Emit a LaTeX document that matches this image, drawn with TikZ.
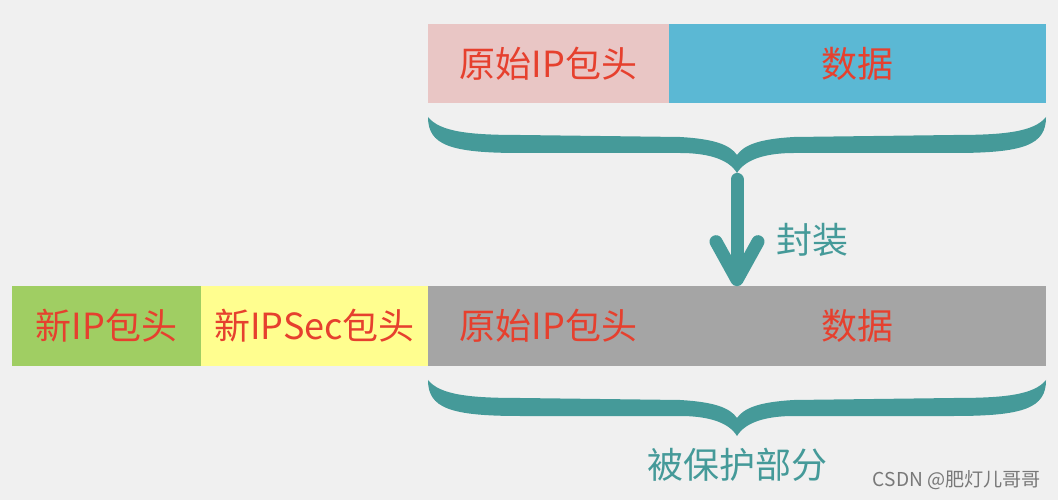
\documentclass[tikz,border=0pt]{standalone}
\usepackage{fontspec}
\setmainfont{Noto Sans CJK SC}
\usetikzlibrary{arrows.meta,positioning}
\definecolor{figbg}{RGB}{240,240,240}
\definecolor{figpink}{RGB}{233,198,197}
\definecolor{figblue}{RGB}{91,184,212}
\definecolor{figgreen}{RGB}{160,206,99}
\definecolor{figyellow}{RGB}{255,254,143}
\definecolor{figgray}{RGB}{165,165,165}
\definecolor{figred}{RGB}{230,64,46}
\definecolor{figteal}{RGB}{69,154,153}
\definecolor{figmark}{RGB}{120,120,120}
\tikzset{
  fieldbox/.style={inner sep=0pt, minimum height=1.975cm, align=center, font=\fontsize{25.6}{30}\selectfont, text=figred},
  figlabel/.style={inner sep=0pt, font=\fontsize{25.6}{30}\selectfont, text=figteal},
  marklabel/.style={inner sep=0pt, font=\fontsize{13.6}{16}\selectfont, text=figmark},
  arrowline/.style={draw=figteal, line width=0.325cm, line cap=round, shorten <=0.16cm, -{Straight Barb[round, length=0.95cm, width=1.05cm]}},
  tealbrace/.pic={
    \fill[figteal] (-309,0) .. controls (-297,-15) and (-267,-18) .. (-217,-18) -- (-57,-20)
      .. controls (-22,-22) and (-7,-28) .. (0,-38) .. controls (7,-28) and (22,-22) .. (57,-20)
      -- (217,-18) .. controls (267,-18) and (297,-15) .. (309,0)
      .. controls (309,-28) and (287,-36) .. (217,-36) -- (57,-36)
      .. controls (32,-36) and (9,-41) .. (0,-56) .. controls (-9,-41) and (-32,-36) .. (-57,-36)
      -- (-217,-36) .. controls (-287,-36) and (-309,-28) .. (-309,0) -- cycle;
    \coordinate (-tip) at (0,-56);
  }
}
\begin{document}
\begin{tikzpicture}[x=0.025cm,y=0.025cm]
  \path[fill=figbg, use as bounding box] (0,0) rectangle (1058,500);

  % original packet
  \node[fieldbox, fill=figpink, minimum width=6.025cm] (origA) at (548.5,436.5) {原始IP包头};
  \node[fieldbox, fill=figblue, minimum width=9.425cm] (dataA) at (857.5,436.5) {数据};

  % encapsulated packet
  \node[fieldbox, fill=figgreen, minimum width=4.725cm] (newip) at (106.5,174) {新IP包头};
  \node[fieldbox, fill=figyellow, minimum width=5.675cm] (ipsec) at (314.5,174) {新IPSec包头};
  \node[fieldbox, fill=figgray, minimum width=6.025cm] (origB) at (548.5,174) {原始IP包头};
  \node[fieldbox, fill=figgray, minimum width=9.425cm] (dataB) at (857.5,174) {数据};

  \pic (upper) at (737,383) {tealbrace};
  \pic (lower) at (737,120) {tealbrace};

  \draw[arrowline] (upper-tip) -- (upper-tip |- dataB.north);
  \node[figlabel] (encap) at (812,260) {封装};
  \node[figlabel] (protect) at (737,35) {被保护部分};
  \node[marklabel] (mark) at (957,20) {CSDN @肥灯儿哥哥};
\end{tikzpicture}
\end{document}
